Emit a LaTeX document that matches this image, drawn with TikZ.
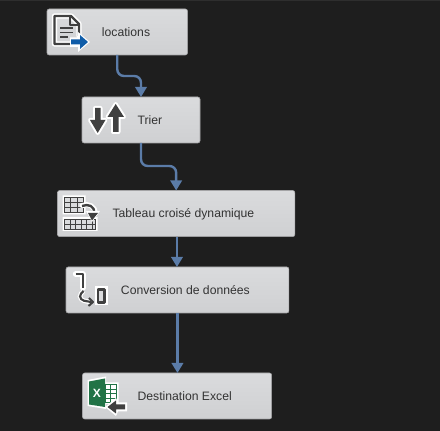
\documentclass[tikz,border=0pt]{standalone}
\usepackage{fontspec}
\setmainfont{Liberation Sans}
\usetikzlibrary{arrows.meta}
\definecolor{bg}{HTML}{1E1E1E}
\definecolor{flowc}{HTML}{5B7CA8}
\definecolor{ink}{HTML}{404040}
\definecolor{txt}{HTML}{333333}
\definecolor{boxedge}{HTML}{A4A4A6}
\definecolor{boxtop}{HTML}{DADBDD}
\definecolor{boxbot}{HTML}{CFD0D2}
\definecolor{xlgreen}{HTML}{217346}
\definecolor{bluearrow}{HTML}{0F5CA8}
\tikzset{
  task/.style={draw=boxedge,line width=0.4pt,rounded corners=1.6pt,top color=boxtop,bottom color=boxbot,inner sep=0pt,outer sep=0pt,anchor=north west},
  lab/.style={anchor=base west,inner sep=0pt,text=txt,font=\fontsize{9.15pt}{11pt}\selectfont},
  flow/.style={draw=flowc,line width=1.8pt,rounded corners=5pt,-{Triangle[length=7.5pt,width=8.5pt]}},
  halo/.style={draw=white,line width=3pt,line join=round,line cap=round},
  stroke/.style={draw=ink,line width=1.1pt,line join=round},
  thin/.style={draw=ink,line width=0.6pt},
}
\begin{document}
\begin{tikzpicture}[x=0.75pt,y=-0.75pt]
\useasboundingbox (0,0) rectangle (440,431);
\fill[bg] (0,0) rectangle (440,431);
\fill[black!70!bg!85!white] (0,0) rectangle (440,1);
% boxes
\node[task,minimum width=105.4pt,minimum height=34.5pt] (a) at (47,9) {};
\node[task,minimum width=88.5pt,minimum height=34.5pt] (b) at (82,97) {};
\node[task,minimum width=178pt,minimum height=34.6pt] (c) at (57.5,190.5) {};
\node[task,minimum width=167.2pt,minimum height=34.5pt] (d) at (66,267) {};
\node[task,minimum width=141.9pt,minimum height=34.5pt] (e) at (82.5,373) {};
% connectors
\draw[flow] (a.south) -- ++(0,21) -| (b.north);
\draw[flow] (b.south) -- ++(0,23) -| (c.north);
\draw[flow] ([xshift=0.6pt]c.south) -- ([xshift=0.6pt]d.north -| c.south);
\draw[flow] (d.south) -- (e.north -| d.south);
% labels
\node[lab] (la) at (101.7,37) {locations};
\node[lab] (lb) at (137.3,125) {Trier};
\node[lab] (lc) at (112.3,218) {Tableau croisé dynamique};
\node[lab] (ld) at (120.7,295) {Conversion de données};
\node[lab] (le) at (137.3,401) {Destination Excel};
% icon: document with arrow
\draw[halo,line width=4pt] (71,44) -- (54.5,44) -- (54.5,16) -- (71,16) -- (79,24) -- (79,36);
\draw[stroke,line width=1.8pt] (71,44) -- (54.5,44) -- (54.5,16) -- (71,16) -- (79,24) -- (79,36);
\draw[stroke,line width=1.3pt] (70,16) -- (70,25) -- (79,25);
\draw[stroke,line width=1.4pt] (60,28) -- (73,28) (60,32.5) -- (73,32.5) (60,37) -- (68,37);
\fill[white] (70,37.5) -- (78,37.5) -- (78,32) -- (90,42) -- (78,52) -- (78,47) -- (70,47) -- cycle;
\fill[bluearrow] (71,39.5) -- (80,39.5) -- (80,35) -- (88,42) -- (80,49) -- (80,44.5) -- (71,44.5) -- cycle;
% icon: sort arrows
\def\downarr{(95,108) -- (100.5,108) -- (100.5,120) -- (105.5,120) -- (97.7,133) -- (90,120) -- (95,120) -- cycle}
\def\uparr{(113,132) -- (118.5,132) -- (118.5,117) -- (124,117) -- (115.7,104) -- (107.5,117) -- (113,117) -- cycle}
\draw[halo,fill=white] \downarr;
\draw[halo,fill=white] \uparr;
\fill[ink] \downarr;
\fill[ink] \uparr;
% icon: pivot table
\fill[white] (62.5,195.5) rectangle (85.5,214.5) (62.5,217) rectangle (97.5,231);
\draw[thin,fill=boxtop] (64.5,197.5) rectangle (83.5,212.5);
\draw[thin] (64.5,202.5) -- (83.5,202.5) (64.5,207.5) -- (83.5,207.5) (70.8,197.5) -- (70.8,212.5) (77.2,197.5) -- (77.2,212.5);
\draw[thin,fill=boxtop] (64.5,219.5) rectangle (95.5,229);
\draw[thin] (64.5,224.2) -- (95.5,224.2) (70,219.5) -- (70,229) (75.5,219.5) -- (75.5,229) (81,219.5) -- (81,229) (86.5,219.5) -- (86.5,229) (92,219.5) -- (92,229);
\draw[halo,line width=3.8pt] (82,205.5) .. controls (88,203) and (96,206) .. (95,214);
\draw[stroke,line width=1.8pt] (82,206) .. controls (88,203.5) and (95,206) .. (94,213);
\fill[white] (86,211) -- (100,211) -- (92,222) -- cycle;
\fill[ink] (88,213) -- (98,213) -- (92,220.5) -- cycle;
% icon: data conversion
\draw[halo,line width=4pt] (75.5,274) -- (83,274) -- (83,288);
\draw[stroke,line width=2.2pt] (75.5,274) -- (83,274) -- (83,288);
\draw[halo,line width=3.4pt,line cap=butt,rounded corners=3pt] (83.5,291) -- (80,293) -- (80,300) -- (90,302);
\draw[stroke,line width=1.6pt,rounded corners=3pt] (83.5,291) -- (80,293) -- (80,300) -- (91,302);
\draw[stroke,line width=1.5pt] (89,298) -- (93,302) -- (88.5,306);
\fill[white] (95,286.5) rectangle (107.5,305.5);
\draw[stroke,line width=1.6pt,fill=boxtop] (98.3,289.5) rectangle (104.5,302.5);
% icon: excel destination
\fill[white] (87.5,380) -- (106,376.5) -- (106,382.5) -- (118.5,382.5) -- (118.5,404) -- (106,404) -- (106,409) -- (87.5,406) -- cycle;
\fill[xlgreen] (89,381.5) -- (105,378.5) -- (105,407) -- (89,404.5) -- cycle;
\draw[xlgreen,line width=0.7pt] (105,384.5) rectangle (116.5,402.5) (105,389) -- (116.5,389) (105,393.5) -- (116.5,393.5) (105,398) -- (116.5,398) (110.5,384.5) -- (110.5,402.5);
\node[inner sep=0pt,text=white,font=\bfseries\fontsize{9pt}{10pt}\selectfont] (x) at (97,393) {X};
\fill[white] (105,407) -- (116,398) -- (118,402.5) -- (127,402.5) -- (127,411.5) -- (118,411.5) -- (116,416) -- cycle;
\fill[ink] (107.5,407) -- (116,400.5) -- (116,404.5) -- (125,404.5) -- (125,409.5) -- (116,409.5) -- (116,413.5) -- cycle;
\end{tikzpicture}
\end{document}
